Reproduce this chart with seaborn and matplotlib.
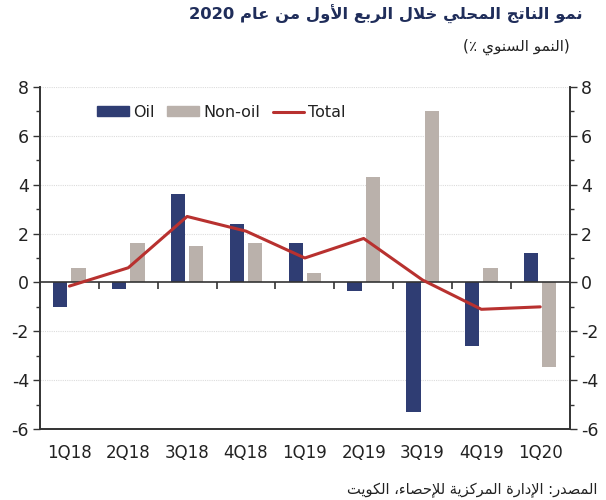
import numpy as np
import pandas as pd
import matplotlib
matplotlib.use("Agg")
import matplotlib.pyplot as plt
from matplotlib.ticker import MultipleLocator
from matplotlib.patches import Patch
from matplotlib.lines import Line2D
import seaborn as sns

# Data
quarters = ['1Q18', '2Q18', '3Q18', '4Q18', '1Q19', '2Q19', '3Q19', '4Q19', '1Q20']
oil = [-1.0, -0.25, 3.6, 2.4, 1.6, -0.35, -5.3, -2.6, 1.2]
non_oil = [0.6, 1.6, 1.5, 1.6, 0.4, 4.3, 7.0, 0.6, -3.45]
total = [-0.15, 0.6, 2.7, 2.1, 1.0, 1.8, 0.1, -1.1, -1.0]

title_text = 'نمو الناتج المحلي خلال الربع الأول من عام 2020'
subtitle_text = '(النمو السنوي ٪)'
source_text = 'المصدر: الإدارة المركزية للإحصاء، الكويت'

OIL_COLOR = '#2f3d73'
NONOIL_COLOR = '#bab1ab'
TOTAL_COLOR = '#b8312f'
NAVY = '#1f2d5a'
AXIS = '#333333'

# --- minimal Arabic shaping (matplotlib has no bidi / joining support) ---
# letter: (isolated, final, initial, medial) ; two entries = right-joining only
FORMS = {
    'ء': (0xFE80,), 'آ': (0xFE81, 0xFE82), 'أ': (0xFE83, 0xFE84), 'ؤ': (0xFE85, 0xFE86),
    'إ': (0xFE87, 0xFE88), 'ئ': (0xFE89, 0xFE8A, 0xFE8B, 0xFE8C), 'ا': (0xFE8D, 0xFE8E),
    'ب': (0xFE8F, 0xFE90, 0xFE91, 0xFE92), 'ة': (0xFE93, 0xFE94),
    'ت': (0xFE95, 0xFE96, 0xFE97, 0xFE98), 'ث': (0xFE99, 0xFE9A, 0xFE9B, 0xFE9C),
    'ج': (0xFE9D, 0xFE9E, 0xFE9F, 0xFEA0), 'ح': (0xFEA1, 0xFEA2, 0xFEA3, 0xFEA4),
    'خ': (0xFEA5, 0xFEA6, 0xFEA7, 0xFEA8), 'د': (0xFEA9, 0xFEAA), 'ذ': (0xFEAB, 0xFEAC),
    'ر': (0xFEAD, 0xFEAE), 'ز': (0xFEAF, 0xFEB0),
    'س': (0xFEB1, 0xFEB2, 0xFEB3, 0xFEB4), 'ش': (0xFEB5, 0xFEB6, 0xFEB7, 0xFEB8),
    'ص': (0xFEB9, 0xFEBA, 0xFEBB, 0xFEBC), 'ض': (0xFEBD, 0xFEBE, 0xFEBF, 0xFEC0),
    'ط': (0xFEC1, 0xFEC2, 0xFEC3, 0xFEC4), 'ظ': (0xFEC5, 0xFEC6, 0xFEC7, 0xFEC8),
    'ع': (0xFEC9, 0xFECA, 0xFECB, 0xFECC), 'غ': (0xFECD, 0xFECE, 0xFECF, 0xFED0),
    'ف': (0xFED1, 0xFED2, 0xFED3, 0xFED4), 'ق': (0xFED5, 0xFED6, 0xFED7, 0xFED8),
    'ك': (0xFED9, 0xFEDA, 0xFEDB, 0xFEDC), 'ل': (0xFEDD, 0xFEDE, 0xFEDF, 0xFEE0),
    'م': (0xFEE1, 0xFEE2, 0xFEE3, 0xFEE4), 'ن': (0xFEE5, 0xFEE6, 0xFEE7, 0xFEE8),
    'ه': (0xFEE9, 0xFEEA, 0xFEEB, 0xFEEC), 'و': (0xFEED, 0xFEEE), 'ى': (0xFEEF, 0xFEF0),
    'ي': (0xFEF1, 0xFEF2, 0xFEF3, 0xFEF4),
}
LAM_ALEF = {'آ': (0xFEF5, 0xFEF6), 'أ': (0xFEF7, 0xFEF8), 'إ': (0xFEF9, 0xFEFA), 'ا': (0xFEFB, 0xFEFC)}


def shape_arabic(s):
    toks = []
    i = 0
    while i < len(s):
        if s[i] == 'ل' and i + 1 < len(s) and s[i + 1] in LAM_ALEF:
            toks.append(('LA', LAM_ALEF[s[i + 1]]))
            i += 2
        else:
            toks.append((s[i], FORMS.get(s[i])))
            i += 1
    out = []
    for k, (ch, forms) in enumerate(toks):
        if forms is None:
            out.append(ch)
            continue
        prev = toks[k - 1][1] if k > 0 else None
        nxt = toks[k + 1][1] if k + 1 < len(toks) else None
        join_prev = prev is not None and len(prev) == 4 and len(forms) >= 2
        join_next = len(forms) == 4 and nxt is not None and len(nxt) >= 2
        if join_prev and join_next:
            cp = forms[3]
        elif join_prev:
            cp = forms[1]
        elif join_next:
            cp = forms[2]
        else:
            cp = forms[0]
        out.append(chr(cp))
    return ''.join(out)


def visual(s):
    rev = shape_arabic(s)[::-1]
    # keep latin/digit runs left-to-right, mirror brackets
    res, run = [], ''
    for ch in rev:
        if ch.isascii() and (ch.isalnum() or ch == '.'):
            run += ch
        else:
            if run:
                res.append(run[::-1])
                run = ''
            res.append({'(': ')', ')': '('}.get(ch, ch))
    if run:
        res.append(run[::-1])
    return ''.join(res)


df = pd.DataFrame({
    'Quarter': quarters * 2,
    'Value': oil + non_oil,
    'Series': ['Oil'] * len(quarters) + ['Non-oil'] * len(quarters),
})

sns.set_style('white')
plt.rcParams['font.family'] = ['DejaVu Sans']
plt.rcParams['axes.unicode_minus'] = False

fig = plt.figure(figsize=(6.06, 5.0), dpi=100)
ax = fig.add_axes([0.066, 0.142, 0.874, 0.684])

sns.barplot(data=df, x='Quarter', y='Value', hue='Series', order=quarters,
            hue_order=['Oil', 'Non-oil'], palette=[OIL_COLOR, NONOIL_COLOR],
            width=0.62, gap=0.22, saturation=1, linewidth=0, ax=ax, legend=False)
sns.lineplot(x=np.arange(len(quarters)), y=total, color=TOTAL_COLOR,
             linewidth=2.2, ax=ax, legend=False, zorder=4)

ax.set_ylim(-6, 8)
ax.set_xlim(-0.5, len(quarters) - 0.5)
ax.set_xlabel('')
ax.set_ylabel('')

# dotted light grid
for y in [-4, -2, 2, 4, 6, 8]:
    ax.axhline(y, color='#dcdcdc', linestyle=(0, (1, 1)), linewidth=0.8, zorder=0)

ax.yaxis.set_major_locator(MultipleLocator(2))
ax.yaxis.set_minor_locator(MultipleLocator(1))
ax.tick_params(axis='y', which='major', direction='out', length=5, width=1,
               color=AXIS, labelsize=12.5, labelcolor='#222222', pad=3)
ax.tick_params(axis='y', which='minor', direction='out', length=3, width=1, color=AXIS)
ax.tick_params(axis='x', length=0, labelsize=12, labelcolor='#222222', pad=11)

ax2 = ax.twinx()
ax2.set_ylim(-6, 8)
ax2.yaxis.set_major_locator(MultipleLocator(2))
ax2.yaxis.set_minor_locator(MultipleLocator(1))
ax2.tick_params(axis='y', which='major', direction='out', length=5, width=1,
                color=AXIS, labelsize=12.5, labelcolor='#222222', pad=3)
ax2.tick_params(axis='y', which='minor', direction='out', length=3, width=1, color=AXIS)

for a in (ax, ax2):
    a.spines['top'].set_visible(False)
    for side in ('left', 'right', 'bottom'):
        a.spines[side].set_color(AXIS)
        a.spines[side].set_linewidth(1.2)

# zero line with category separator ticks
ax.axhline(0, color=AXIS, linewidth=1.2, zorder=3)
zero = ax.secondary_xaxis(6 / 14)
zero.set_xticks(np.arange(len(quarters) - 1) + 0.5)
zero.set_xticklabels([])
zero.tick_params(direction='out', length=5, width=1.2, color=AXIS)
zero.spines['bottom'].set_visible(False)

# legend
handles = [Patch(color=OIL_COLOR), Patch(color=NONOIL_COLOR),
           Line2D([], [], color=TOTAL_COLOR, linewidth=2.2)]
ax.legend(handles, ['Oil', 'Non-oil', 'Total'], loc='upper left',
          bbox_to_anchor=(0.08, 0.99), ncol=3, frameon=False,
          fontsize=11.5, handlelength=2.0, handleheight=0.55,
          handletextpad=0.25, columnspacing=0.8, labelcolor='#222222')

fig.text(0.962, 0.972, visual(title_text), ha='right', va='center',
         fontsize=11.8, fontweight='bold', color=NAVY)
fig.text(0.94, 0.906, visual(subtitle_text), ha='right', va='center',
         fontsize=11, color='#222222')
fig.text(0.985, 0.02, visual(source_text), ha='right', va='center',
         fontsize=10.5, color='#222222')

fig.savefig('out.png', dpi=100)
